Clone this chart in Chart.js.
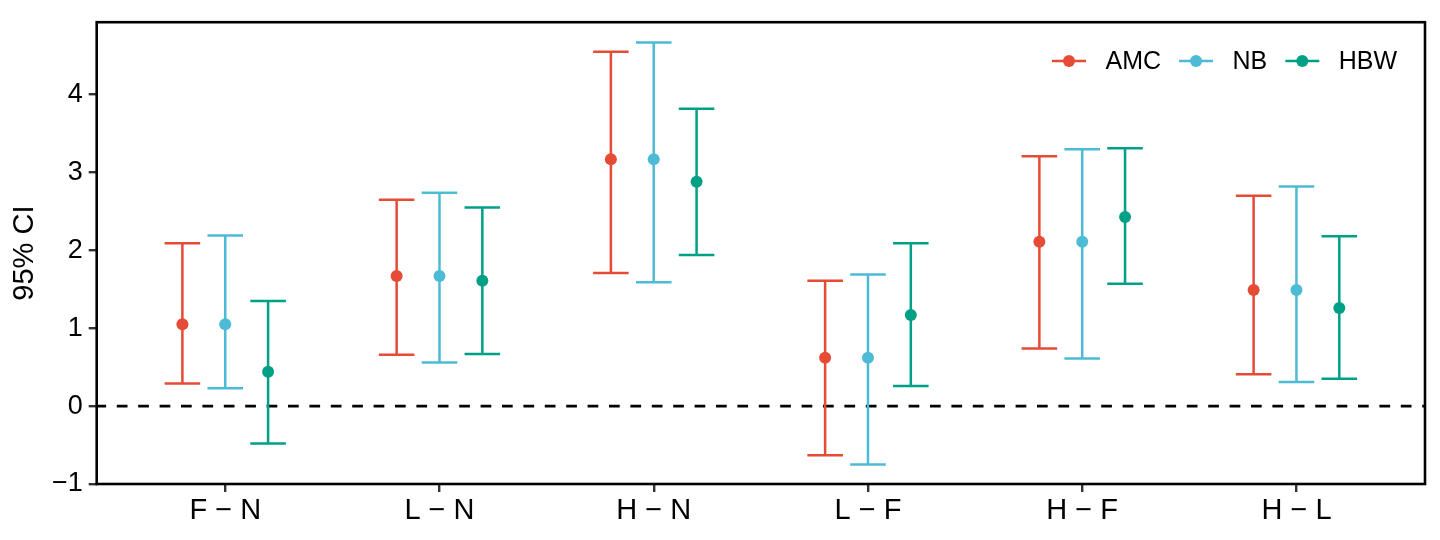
<!DOCTYPE html>
<html>
<head>
<meta charset="utf-8">
<script src="https://cdn.jsdelivr.net/npm/chart.js@4/dist/chart.umd.min.js"></script>
<style>
  html, body { margin: 0; padding: 0; background: #fff; }
  canvas { display: block; }
</style>
</head>
<body>
<canvas id="chart" width="1440" height="540"></canvas>
<script>
// categories and tick labels
const categories = ['F \u2212 N', 'L \u2212 N', 'H \u2212 N', 'L \u2212 F', 'H \u2212 F', 'H \u2212 L'];
const yTicks = [-1, 0, 1, 2, 3, 4];
const seriesNames = ['AMC', 'NB', 'HBW'];
const seriesColors = ['#E64B35', '#4DBBD5', '#00A087'];

// estimates and 95% CI bounds
const amcEst  = [1.05, 1.67, 3.17, 0.62, 2.11, 1.49];
const amcLow  = [0.29, 0.66, 1.71, -0.63, 0.74, 0.41];
const amcHigh = [2.09, 2.65, 4.55, 1.61, 3.21, 2.70];

const nbEst  = [1.05, 1.67, 3.17, 0.62, 2.11, 1.49];
const nbLow  = [0.23, 0.56, 1.59, -0.75, 0.61, 0.31];
const nbHigh = [2.19, 2.74, 4.67, 1.69, 3.30, 2.82];

const hbwEst  = [0.44, 1.61, 2.88, 1.17, 2.43, 1.26];
const hbwLow  = [-0.48, 0.67, 1.94, 0.26, 1.57, 0.35];
const hbwHigh = [1.35, 2.55, 3.82, 2.09, 3.31, 2.18];

const FONT = "'Liberation Sans', Arial, sans-serif";
const dodge = 0.2;      // horizontal offset between groups
const capHalf = 0.083;  // half width of the error bar caps

function makeSeries(idx, est, low, high) {
    const shift = (idx - 1) * dodge;
    return {
        label: seriesNames[idx],
        data: est.map((v, i) => ({ x: i + 1 + shift, y: v, low: low[i], high: high[i] })),
        backgroundColor: seriesColors[idx],
        borderColor: seriesColors[idx],
        pointRadius: 6,
        pointHoverRadius: 6,
        pointBorderWidth: 0,
        showLine: false
    };
}

const zeroLine = {
    id: 'zeroLine',
    beforeDatasetsDraw(chart) {
        const { ctx, chartArea, scales: { y } } = chart;
        const py = y.getPixelForValue(0);
        ctx.save();
        ctx.strokeStyle = '#000';
        ctx.lineWidth = 2.6;
        ctx.setLineDash([10.7, 10.7]);
        ctx.lineDashOffset = 1.3;
        ctx.beginPath();
        ctx.moveTo(chartArea.left, py);
        ctx.lineTo(chartArea.right, py);
        ctx.stroke();
        ctx.restore();
    }
};

const errorBars = {
    id: 'errorBars',
    beforeDatasetsDraw(chart) {
        const { ctx, scales: { x, y } } = chart;
        chart.data.datasets.forEach(ds => {
            ctx.save();
            ctx.strokeStyle = ds.borderColor;
            ctx.lineWidth = 2.5;
            ds.data.forEach(p => {
                const px = x.getPixelForValue(p.x);
                const xa = x.getPixelForValue(p.x - capHalf);
                const xb = x.getPixelForValue(p.x + capHalf);
                const yl = y.getPixelForValue(p.low);
                const yh = y.getPixelForValue(p.high);
                ctx.beginPath();
                ctx.moveTo(px, yl); ctx.lineTo(px, yh);
                ctx.moveTo(xa, yl); ctx.lineTo(xb, yl);
                ctx.moveTo(xa, yh); ctx.lineTo(xb, yh);
                ctx.stroke();
            });
            ctx.restore();
        });
    }
};

const panelBox = {
    id: 'panelBox',
    afterDraw(chart) {
        const { ctx, chartArea: a } = chart;
        ctx.save();
        ctx.strokeStyle = '#000';
        ctx.lineWidth = 2.6;
        ctx.strokeRect(a.left, a.top, a.right - a.left, a.bottom - a.top);
        ctx.restore();
    }
};

// legend: line with a dot, then the name, laid out from the right of the panel
const keyLegend = {
    id: 'keyLegend',
    afterDraw(chart) {
        const { ctx, chartArea: a } = chart;
        ctx.save();
        ctx.font = '25px ' + FONT;
        ctx.textBaseline = 'middle';
        ctx.textAlign = 'left';
        const ly = 61;
        let lx = a.right - 373;
        chart.data.datasets.forEach(ds => {
            ctx.strokeStyle = ds.borderColor;
            ctx.fillStyle = ds.borderColor;
            ctx.lineWidth = 2.5;
            ctx.beginPath();
            ctx.moveTo(lx, ly); ctx.lineTo(lx + 34, ly);
            ctx.stroke();
            ctx.beginPath();
            ctx.arc(lx + 17, ly, 6, 0, Math.PI * 2);
            ctx.fill();
            ctx.fillStyle = '#000';
            ctx.fillText(ds.label, lx + 53.5, ly + 1);
            lx += 53.5 + ctx.measureText(ds.label).width + 18;
        });
        ctx.restore();
    }
};

new Chart(document.getElementById('chart'), {
    type: 'scatter',
    data: {
        datasets: [
            makeSeries(0, amcEst, amcLow, amcHigh),
            makeSeries(1, nbEst, nbLow, nbHigh),
            makeSeries(2, hbwEst, hbwLow, hbwHigh)
        ]
    },
    options: {
        responsive: false,
        animation: false,
        layout: { padding: { top: 14, right: 15, left: 0, bottom: 0 } },
        plugins: {
            legend: { display: false },
            tooltip: { enabled: false }
        },
        scales: {
            x: {
                type: 'linear',
                min: 0.4,
                max: 6.6,
                afterBuildTicks: s => { s.ticks = categories.map((c, i) => ({ value: i + 1 })); },
                afterFit: s => { s.height = 56; },
                border: { display: false },
                grid: { drawOnChartArea: false, drawTicks: true, tickLength: 8, color: '#333', lineWidth: 2.4 },
                ticks: {
                    color: '#000',
                    font: { family: FONT, size: 29 },
                    padding: 2,
                    maxRotation: 0,
                    callback: v => categories[Math.round(v) - 1]
                }
            },
            y: {
                min: -1,
                max: 4.93,
                afterBuildTicks: s => { s.ticks = yTicks.map(v => ({ value: v })); },
                afterFit: s => { s.width = 96.7; },
                border: { display: false },
                grid: { drawOnChartArea: false, drawTicks: true, tickLength: 8, color: '#333', lineWidth: 2.4 },
                ticks: {
                    color: '#000',
                    font: { family: FONT, size: 27 },
                    padding: 6,
                    callback: v => (v < 0 ? '\u2212' + Math.abs(v) : String(v))
                },
                title: {
                    display: true,
                    text: '95% CI',
                    color: '#000',
                    font: { family: FONT, size: 29 },
                    padding: { top: 8, bottom: 0 }
                }
            }
        }
    },
    plugins: [zeroLine, errorBars, panelBox, keyLegend]
});
</script>
</body>
</html>
